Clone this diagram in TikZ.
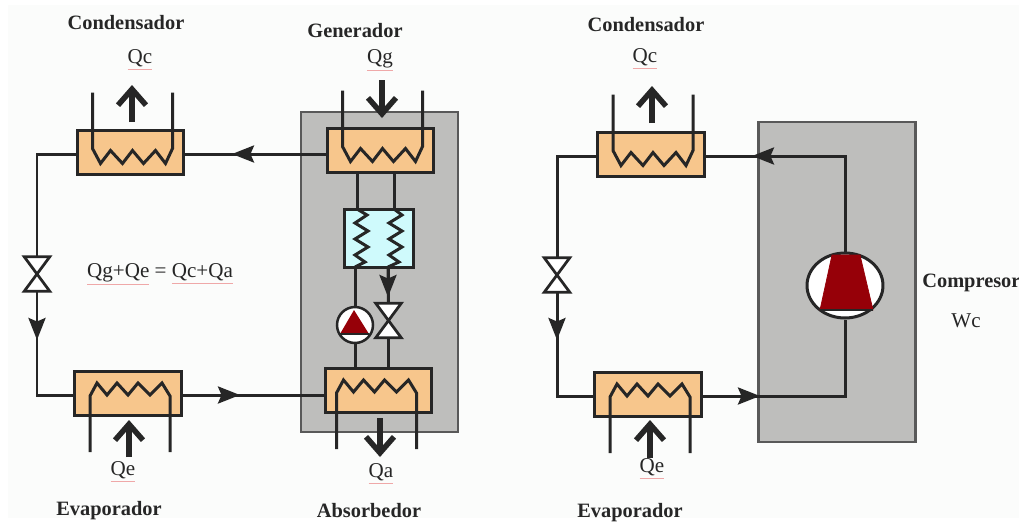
\documentclass[tikz,border=0pt]{standalone}
\usepackage{fontspec}
\setmainfont{Liberation Serif}
\usepackage{xcolor}
\usetikzlibrary{arrows.meta,shapes.geometric}

\definecolor{paper}{HTML}{FBFCFB}
\definecolor{shell}{HTML}{BEBEBC}
\definecolor{hxorange}{HTML}{F7C68C}
\definecolor{hxcyan}{HTML}{CFFAFC}
\definecolor{rotor}{HTML}{960008}
\definecolor{ink}{HTML}{262626}
\definecolor{squig}{HTML}{EFA8A8}

\newcommand{\spell}[1]{\rlap{\textcolor{squig}{\underline{\phantom{#1}}}}#1}
\newcommand{\drawvalve}[1]{\draw[line width=0.55mm, ink, fill=white, line join=miter] (#1.north west) -- (#1.north east) -- (#1.south west) -- (#1.south east) -- cycle;}

\tikzset{
    pipe/.style={line width=0.6mm, ink},
    flow/.style={pipe, -{Stealth[length=4.4mm, width=3.4mm, inset=0.7mm]}},
    heat/.style={line width=1.1mm, ink, -{Straight Barb[length=3.2mm, width=5.6mm]}},
    hxbox/.style={draw=ink, line width=0.6mm, fill=hxorange, minimum width=2.14cm, minimum height=0.88cm, inner sep=0},
    shellbox/.style={draw=black!65, line width=0.5mm, fill=shell, minimum width=3.14cm, minimum height=6.4cm, inner sep=0},
    valve/.style={minimum width=0.5cm, minimum height=0.68cm, inner sep=0},
    title/.style={font=\fontsize{11.6}{14}\bfseries\selectfont, text=ink, inner sep=0, anchor=base},
    heatlabel/.style={font=\fontsize{12}{14}\selectfont, text=ink, inner sep=0, anchor=base},
    coildown/.pic={\draw[pipe] (-38,-60) -- (-38,-4) -- (-30,11) -- (-20,-2) -- (-8,11) -- (2,-2) -- (13,11) -- (25,-2) -- (35,11) -- (42,-4) -- (42,-60);},
    coilup/.pic={\draw[pipe] (-38,59) -- (-38,3) -- (-31,-10) -- (-21,2) -- (-11,-10) -- (0,2) -- (10,-10) -- (22,2) -- (34,-10) -- (42,3) -- (42,59);}
}

\begin{document}
\begin{tikzpicture}[x=0.02cm, y=-0.02cm]
    \useasboundingbox (0,0) rectangle (1019,522);
    \fill[white] (0,0) rectangle (1019,522);
    \fill[paper] (8,5) rectangle (1019,518);

    \node[shellbox] (shellA) at (379.5,272) {};
    \node[shellbox] (shellB) at (837,282) {};

    \coordinate (tipA) at (232,154);
    \coordinate (tipB) at (240,395);
    \coordinate (tipC) at (37,340);
    \coordinate (tipD) at (752,156);
    \coordinate (tipE) at (760,396);
    \coordinate (tipF) at (557,340);
    \coordinate (tipG) at (388,297);

    \node[hxbox] (condA) at (130.5,152.5) {};
    \node[hxbox] (gen) at (380.5,150.5) {};
    \node[hxbox] (evapA) at (128,393) {};
    \node[hxbox] (abs) at (378.5,390) {};
    \node[hxbox] (condB) at (651,154.5) {};
    \node[hxbox] (evapB) at (648,394) {};

    \node[valve] (valveA) at (37,274) {};
    \node[valve] (valveB) at (388.5,320.5) {};
    \node[valve] (valveC) at (557,275) {};

    \node[circle, draw=ink, line width=0.5mm, fill=white, minimum size=0.72cm, inner sep=0] (pump) at (355,325) {};
    \node[ellipse, draw=ink, line width=0.6mm, fill=white, minimum width=1.52cm, minimum height=1.3cm, inner sep=0] (comp) at (845,285.5) {};

    \node[draw=ink, line width=0.6mm, fill=hxcyan, minimum width=1.4cm, minimum height=1.16cm, inner sep=0] (mid) at (379,238) {};

    \draw[pipe] (gen.west |- tipA) -- (condA.east |- tipA);
    \draw[flow] (gen.west |- tipA) -- (tipA);
    \draw[pipe] (condA.west |- tipA) -| (valveA.north);
    \draw[pipe] (valveA.south) |- (evapA.west |- tipB);
    \draw[flow] (valveA.south) -- (tipC);
    \draw[pipe] (evapA.east |- tipB) -- (abs.west |- tipB);
    \draw[flow] (evapA.east |- tipB) -- (tipB);

    \draw[pipe] (comp.north) |- (condB.east |- tipD);
    \draw[flow] (comp.north) |- (tipD);
    \draw[pipe] (condB.west |- tipD) -| (valveC.north);
    \draw[pipe] (valveC.south) |- (evapB.west |- tipE);
    \draw[flow] (valveC.south) -- (tipF);
    \draw[pipe] (evapB.east |- tipE) -| (comp.south);
    \draw[flow] (evapB.east |- tipE) -- (tipE);

    \coordinate (midA) at (357,209);
    \coordinate (midB) at (394,209);
    \coordinate (midC) at (355,267);
    \coordinate (midD) at (388,267);
    \draw[pipe] (gen.south -| midA) -- (midA);
    \draw[pipe] (gen.south -| midB) -- (midB);
    \draw[pipe] (midA) -- (367,215) -- (355,223) -- (368,231) -- (355,239) -- (368,247) -- (355,255) -- (365,262) -- (midC);
    \draw[pipe] (midB) -- (402,215) -- (389,223) -- (402,231) -- (389,239) -- (402,247) -- (389,255) -- (399,262) -- (midD);
    \draw[pipe] (midC) -- (pump.north);
    \draw[pipe] (pump.south) -- (abs.north -| pump);
    \draw[pipe] (midD) -- (valveB.north);
    \draw[flow] (midD) -- (tipG);
    \draw[pipe] (valveB.south) -- (abs.north -| valveB);

    \drawvalve{valveA}
    \drawvalve{valveB}
    \drawvalve{valveC}

    \fill[rotor] (354,310) -- (369,334) -- (340,334) -- cycle;
    \draw[ink, line width=0.3mm] (340,334) -- (369,334);
    \draw[rotor, fill=rotor] (832,255) -- (860,255) -- (873,310) -- (820,310) -- cycle;
    \draw[ink, line width=0.3mm] (820,310) -- (873,310);

    \pic at (condA) {coildown};
    \pic at (gen) {coildown};
    \pic at (evapA) {coilup};
    \pic[xshift=-0.08cm] at (abs) {coilup};
    \pic at (condB) {coildown};
    \pic at (evapB) {coilup};

    \coordinate (arrowA) at (132,122);
    \coordinate (arrowB) at (132,85);
    \coordinate (arrowC) at (382,80);
    \coordinate (arrowD) at (382,118);
    \coordinate (arrowE) at (129,457);
    \coordinate (arrowF) at (129,420);
    \coordinate (arrowG) at (380,418);
    \coordinate (arrowH) at (380,457);
    \coordinate (arrowI) at (652,123);
    \coordinate (arrowJ) at (652,86);
    \coordinate (arrowK) at (650,458);
    \coordinate (arrowL) at (650,420);
    \draw[heat] (arrowA) -- (arrowB);
    \draw[heat] (arrowC) -- (arrowD);
    \draw[heat] (arrowE) -- (arrowF);
    \draw[heat] (arrowG) -- (arrowH);
    \draw[heat] (arrowI) -- (arrowJ);
    \draw[heat] (arrowK) -- (arrowL);

    \node[title] (tcondA) at (126,29) {Condensador};
    \node[title] (tgen) at (355,37) {Generador};
    \node[title] (tevapA) at (109,515) {Evaporador};
    \node[title] (tabs) at (369,517) {Absorbedor};
    \node[title] (tcondB) at (646,31) {Condensador};
    \node[title] (tevapB) at (630,517) {Evaporador};
    \node[title, anchor=base west] (tcomp) at (922,287) {Compresor};

    \node[heatlabel] (qcA) at (140,63) {\spell{Qc}};
    \node[heatlabel] (qg) at (380,63) {\spell{Qg}};
    \node[heatlabel] (qeA) at (123,475) {\spell{Qe}};
    \node[heatlabel] (qa) at (381,477) {\spell{Qa}};
    \node[heatlabel] (qcB) at (645,62) {\spell{Qc}};
    \node[heatlabel] (qeB) at (652,472) {\spell{Qe}};
    \node[heatlabel] (wc) at (966,327) {Wc};
    \node[heatlabel] (balance) at (160,277) {\spell{Qg+Qe} = \spell{Qc+Qa}};
\end{tikzpicture}
\end{document}
